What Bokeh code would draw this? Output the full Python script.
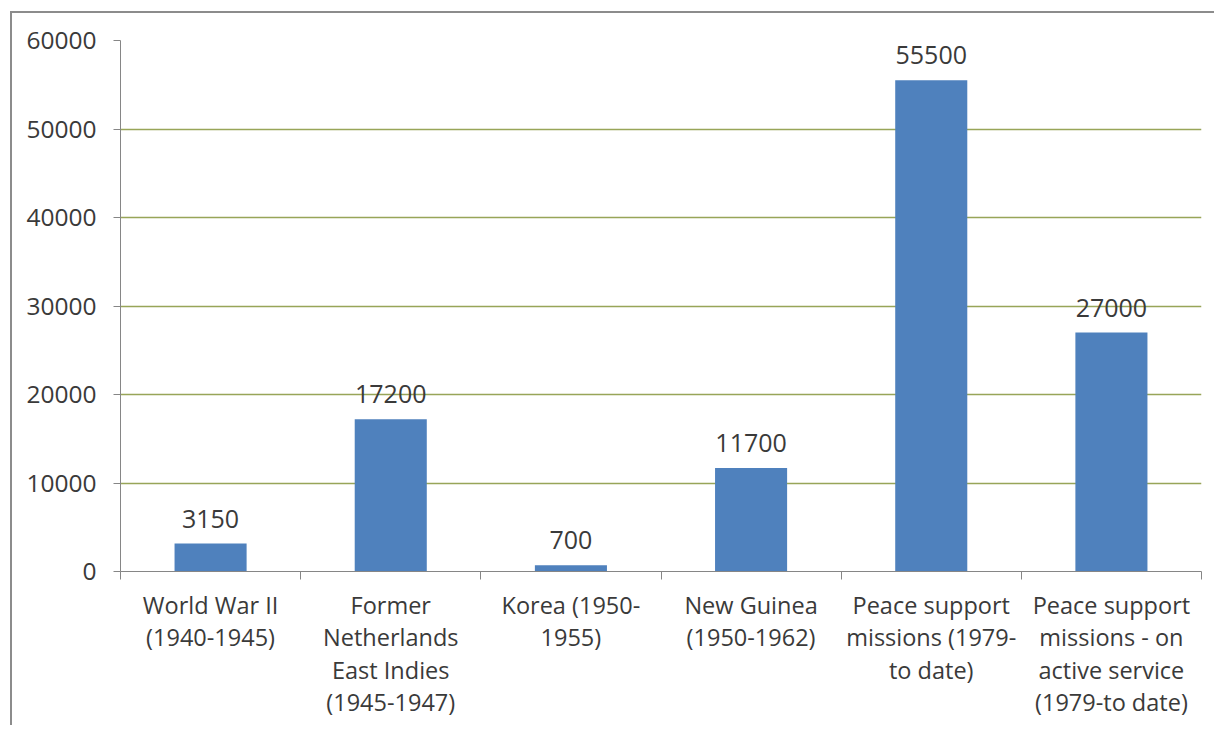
from bokeh.plotting import figure
from bokeh.models import ColumnDataSource, FixedTicker, LabelSet, Range1d
from bokeh.core.properties import value
from bokeh.embed import file_html
from bokeh.resources import INLINE

categories = [
    "World War II\n(1940-1945)",
    "Former\nNetherlands\nEast Indies\n(1945-1947)",
    "Korea (1950-\n1955)",
    "New Guinea\n(1950-1962)",
    "Peace support\nmissions (1979-\nto date)",
    "Peace support\nmissions - on\nactive service\n(1979-to date)",
]
values = [3150, 17200, 700, 11700, 55500, 27000]
y_ticks = [0, 10000, 20000, 30000, 40000, 50000, 60000]

n = len(categories)
centers = [i + 0.5 for i in range(n)]
bounds = list(range(n + 1))

FONT = "Open Sans"
TXT = "#3a3a3a"

src = ColumnDataSource(dict(x=centers, top=values, label=[str(v) for v in values]))

p = figure(width=1204, height=714, output_backend="svg", toolbar_location=None,
           x_range=Range1d(0, n), y_range=Range1d(0, 60000),
           min_border_left=108, min_border_right=15, min_border_top=27, min_border_bottom=156)
p.styles = {"border-top": "2px solid #8c8c8c", "border-left": "2px solid #8c8c8c",
            "margin-left": "10px", "margin-top": "11px"}
p.outline_line_color = None
p.background_fill_color = "white"
p.border_fill_color = "white"

p.vbar(x="x", top="top", width=0.4, source=src, fill_color="#4F81BD", line_color=None)

labels = LabelSet(x="x", y="top", text="label", source=src, text_align="center",
                  text_baseline="alphabetic", y_offset=16, text_font=value(FONT),
                  text_font_size="25px", text_color=TXT)
p.add_layout(labels)

# x axis
xa = p.xaxis[0]
xa.ticker = FixedTicker(ticks=centers, minor_ticks=bounds)
xa.major_label_overrides = {c: lab for c, lab in zip(centers, categories)}
xa.major_tick_line_color = None
xa.minor_tick_line_color = "#868686"
xa.minor_tick_out = 8
xa.minor_tick_in = 0
xa.axis_line_color = "#868686"
xa.major_label_text_font = FONT
xa.major_label_text_font_size = "23.5px"
xa.major_label_text_color = TXT
xa.major_label_text_line_height = 1.02
xa.major_label_standoff = 9

ya = p.yaxis[0]
ya.ticker = FixedTicker(ticks=y_ticks)
ya.minor_tick_line_color = None
ya.major_tick_out = 7
ya.major_tick_in = 0
ya.major_tick_line_color = "#868686"
ya.axis_line_color = "#868686"
ya.major_label_text_font = FONT
ya.major_label_text_font_size = "24.5px"
ya.major_label_text_color = TXT
ya.major_label_standoff = 17
ya.formatter.use_scientific = False

p.xgrid.grid_line_color = None
p.ygrid.grid_line_color = "#98A558"
p.ygrid.grid_line_width = 1.3
p.ygrid.ticker = FixedTicker(ticks=y_ticks[1:])

open("out.html", "w").write(file_html(p, INLINE))
